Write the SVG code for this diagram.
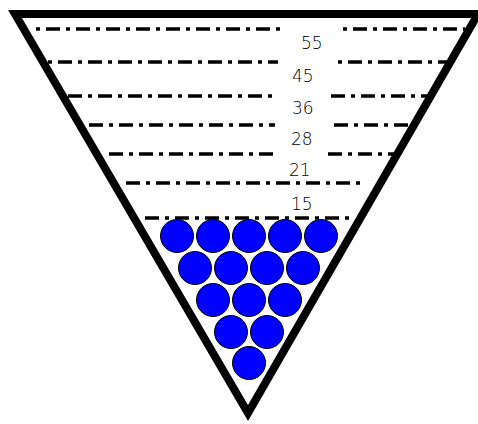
<svg xmlns="http://www.w3.org/2000/svg" width="478" height="424" viewBox="0 0 478 424">
<style>
.level{stroke:#000;stroke-width:3.5;fill:none}
.dotfirst{stroke-dasharray:4 6 14 6}
.dashfirst{stroke-dasharray:14 6 4 6}
.lbl{font-family:"DejaVu Sans","Liberation Sans",sans-serif;font-size:17px;font-weight:200;fill:#000}
.ball{fill:#0000FF;stroke:#000;stroke-width:1}
</style>
<rect width="478" height="424" fill="#fff"/>
<g id="levels">
<path class="level dotfirst" d="M36 29H285M343 29H465"/>
<path class="level dotfirst" d="M48 62H278M338 62H451"/>
<path class="level dashfirst" d="M68 96H273M331 96H427"/>
<path class="level dashfirst" d="M89 125H275M334 125H408"/>
<path class="level dashfirst" d="M109 154H273M328 154H395"/>
<path class="level dashfirst" d="M126 183H365"/>
<path class="level dashfirst" d="M145 218H353"/>
</g>
<g id="labels">
<text class="lbl" x="301" y="49">55</text>
<text class="lbl" x="292" y="82">45</text>
<text class="lbl" x="292" y="114">36</text>
<text class="lbl" x="291" y="145">28</text>
<text class="lbl" x="289" y="176">21</text>
<text class="lbl" x="291" y="210">15</text>
</g>
<g id="balls">
<circle class="ball" cx="177" cy="236" r="16.5"/>
<circle class="ball" cx="213" cy="236" r="16.5"/>
<circle class="ball" cx="249" cy="236" r="16.5"/>
<circle class="ball" cx="285" cy="236" r="16.5"/>
<circle class="ball" cx="321" cy="236" r="16.5"/>
<circle class="ball" cx="195" cy="268" r="16.5"/>
<circle class="ball" cx="231" cy="268" r="16.5"/>
<circle class="ball" cx="267" cy="268" r="16.5"/>
<circle class="ball" cx="303" cy="268" r="16.5"/>
<circle class="ball" cx="213" cy="300" r="16.5"/>
<circle class="ball" cx="249" cy="300" r="16.5"/>
<circle class="ball" cx="285" cy="300" r="16.5"/>
<circle class="ball" cx="231" cy="332" r="16.5"/>
<circle class="ball" cx="267" cy="332" r="16.5"/>
<circle class="ball" cx="249" cy="363" r="16.5"/>
</g>
<g id="triangle">
<path d="M15 14H478L248 413Z" fill="none" stroke="#000" stroke-width="8" stroke-linejoin="miter" stroke-miterlimit="4"/>
</g>
</svg>
